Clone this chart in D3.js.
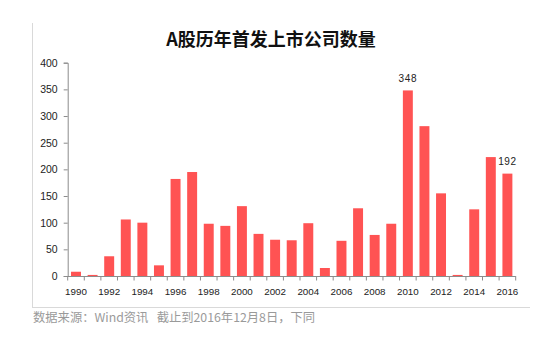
<!DOCTYPE html>
<html>
<head>
<meta charset="utf-8">
<script src="https://cdn.jsdelivr.net/npm/d3@7"></script>
<style>
  html, body { margin: 0; padding: 0; background: #fff; }
  svg { display: block; }
</style>
</head>
<body>
<svg id="chart" width="544" height="347"></svg>
<script>
// A-share IPO counts by year
const years = d3.range(1990, 2017);
const ipoCounts = [8, 2, 37, 106, 100, 20, 182, 195, 98, 94, 131, 79, 68, 67, 99, 15, 66, 127, 77, 98, 348, 281, 155, 2, 125, 223, 192];
const labelledYears = [2010, 2016];
const yTickValues = [0, 50, 100, 150, 200, 250, 300, 350, 400];
const xLabelYears = years.filter(y => y % 2 === 0);

const titleText = "A股历年首发上市公司数量";
const sourceText = "数据来源：Wind资讯\u00a0\u00a0\u00a0截止到2016年12月8日，下同";

const svg = d3.select("#chart");
const tickFont = "'Liberation Sans', Arial, sans-serif";
const cjkFont = "'Noto Sans CJK SC', 'Noto Sans', sans-serif";

const x = d3.scaleBand()
  .domain(years)
  .range([67.7, 515.7])
  .paddingInner(0.4)
  .paddingOuter(0.2);

const y = d3.scaleLinear()
  .domain([0, 400])
  .range([276, 62.7]);

// frame lines
svg.append("line")
  .attr("x1", 32.5).attr("x2", 32.5)
  .attr("y1", 23).attr("y2", 307.5)
  .attr("stroke", "#d9d9d9").attr("stroke-width", 1);
svg.append("line")
  .attr("x1", 32).attr("x2", 530)
  .attr("y1", 307.5).attr("y2", 307.5)
  .attr("stroke", "#d9d9d9").attr("stroke-width", 1);

// title
svg.append("text")
  .attr("x", 271).attr("y", 46)
  .attr("text-anchor", "middle")
  .attr("font-family", cjkFont)
  .attr("font-weight", "bold")
  .attr("font-size", 18)
  .attr("fill", "#111")
  .text(titleText);

// bars
svg.append("g")
  .selectAll("rect")
  .data(years.map((yr, i) => ({ year: yr, value: ipoCounts[i] })))
  .join("rect")
  .attr("x", d => x(d.year))
  .attr("width", x.bandwidth())
  .attr("y", d => y(d.value))
  .attr("height", d => y(0) - y(d.value))
  .attr("fill", "#ff5353");

// value labels
svg.append("g")
  .selectAll("text")
  .data(labelledYears.map(yr => ({ year: yr, value: ipoCounts[years.indexOf(yr)] })))
  .join("text")
  .attr("x", d => x(d.year) + x.bandwidth() / 2)
  .attr("y", d => y(d.value) - 8.5)
  .attr("text-anchor", "middle")
  .attr("font-family", tickFont)
  .attr("font-size", 10)
  .attr("letter-spacing", 0.6)
  .attr("fill", "#222")
  .text(d => d.value);

// y axis
const yAxis = svg.append("g")
  .attr("transform", "translate(67.7,0)")
  .call(d3.axisLeft(y).tickValues(yTickValues).tickSize(4).tickPadding(6));
yAxis.select(".domain").attr("stroke", "#8c8c8c");
yAxis.selectAll(".tick line").attr("stroke", "#8c8c8c");
yAxis.selectAll(".tick text")
  .attr("font-family", tickFont)
  .attr("font-size", 10.5)
  .attr("fill", "#222");

// x axis: baseline with ticks on category boundaries
const xAxis = svg.append("g");
const half = x.step() * x.paddingInner() / 2;
xAxis.append("line")
  .attr("x1", x.range()[0]).attr("x2", x.range()[1])
  .attr("y1", y(0) + 0.5).attr("y2", y(0) + 0.5)
  .attr("stroke", "#8c8c8c");
const boundaries = years.map(yr => x(yr) - half).concat([x.range()[1]]);
xAxis.selectAll("line.tick")
  .data(boundaries)
  .join("line")
  .attr("class", "tick")
  .attr("x1", d => d).attr("x2", d => d)
  .attr("y1", y(0)).attr("y2", y(0) + 4.5)
  .attr("stroke", "#8c8c8c");
xAxis.selectAll("text")
  .data(xLabelYears)
  .join("text")
  .attr("x", d => x(d) + x.bandwidth() / 2)
  .attr("y", 294.5)
  .attr("text-anchor", "middle")
  .attr("font-family", tickFont)
  .attr("font-size", 9.8)
  .attr("fill", "#222")
  .text(d => d);

// source note
svg.append("text")
  .attr("x", 33).attr("y", 321.5)
  .attr("font-family", cjkFont)
  .attr("font-size", 12.3)
  .attr("fill", "#9a9a9a")
  .text(sourceText);
</script>
</body>
</html>
